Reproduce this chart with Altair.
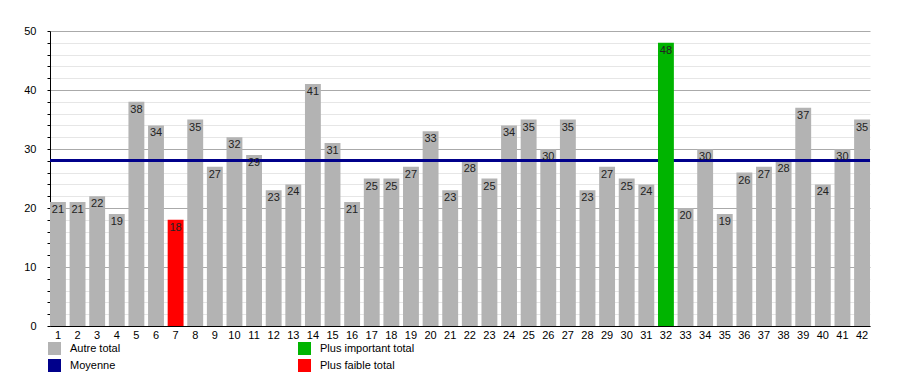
import altair as alt
import pandas as pd

numbers = list(range(1, 43))
totals = [21, 21, 22, 19, 38, 34, 18, 35, 27, 32, 29, 23, 24, 41, 31, 21, 25, 25, 27, 33, 23,
          28, 25, 34, 35, 30, 35, 23, 27, 25, 24, 48, 20, 30, 19, 26, 27, 28, 37, 24, 30, 35]
categories = ["Autre total", "Moyenne", "Plus important total", "Plus faible total"]
colors = ["#b3b3b3", "#00008b", "#00b400", "#ff0000"]
y_ticks = list(range(0, 51, 2))

mx, mn = max(totals), min(totals)
cat = ["Plus important total" if v == mx else ("Plus faible total" if v == mn else "Autre total")
       for v in totals]
df = pd.DataFrame({"n": numbers, "total": totals, "cat": cat})
mean_df = pd.DataFrame({"total": [sum(totals) / len(totals)]})

FONT = "Liberation Sans"

x = alt.X("n:O",
          scale=alt.Scale(paddingInner=0.19, paddingOuter=0),
          axis=alt.Axis(title=None, labelAngle=0, ticks=False, domainColor="black",
                        labelPadding=3, grid=False, labelFont=FONT, labelFontSize=11,
                        labelColor="black"))
y = alt.Y("total:Q",
          scale=alt.Scale(domain=[0, 50], nice=False),
          axis=alt.Axis(title=None, values=y_ticks,
                        labelExpr="datum.value % 10 === 0 ? datum.label : ''",
                        labelOverlap=False,
                        tickSize=3, tickColor="black", domainColor="black",
                        labelPadding=11, labelFont=FONT, labelFontSize=11, labelColor="black",
                        gridColor={"condition": {"test": "datum.value % 10 === 0",
                                                 "value": "#aaaaaa"},
                                   "value": "#e6e6e6"}))

color = alt.Color("cat:N", scale=alt.Scale(domain=categories, range=colors),
                  legend=alt.Legend(title=None, orient="none", legendX=-2, legendY=311,
                                    columns=2, symbolType="square", symbolSize=169,
                                    symbolStrokeWidth=0, symbolOpacity=1,
                                    labelFont=FONT, labelFontSize=11, labelColor="black",
                                    labelOffset=9, rowPadding=4, columnPadding=177,
                                    padding=0))

gray_bars = alt.Chart(df).mark_bar().encode(x=x, y=y, color=color).transform_filter(
    "datum.cat === 'Autre total'")
hi_bars = alt.Chart(df).mark_bar().encode(x=x, y=y, color=color).transform_filter(
    "datum.cat !== 'Autre total'")

rule = alt.Chart(mean_df).mark_rule(color="#00008b", strokeWidth=3).encode(y=y)

text = alt.Chart(df).mark_text(baseline="top", dy=2, fontSize=11, font=FONT,
                               color="#222222").encode(
    x=x, y=y, text="total:Q"
)

chart = alt.layer(gray_bars, rule, hi_bars, text).properties(
    width=820, height=295,
    autosize=alt.AutoSizeParams(type="none"),
    padding={"left": 42, "top": 23, "right": 22, "bottom": 48},
).configure_view(stroke=None)

chart.save("out.html", embed_options={"renderer": "svg", "actions": False})
